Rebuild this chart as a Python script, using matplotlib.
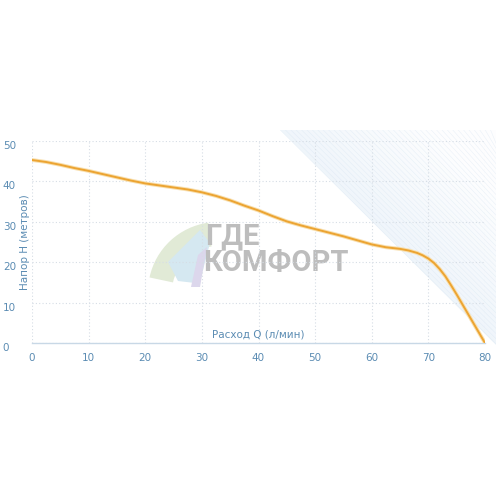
import numpy as np
import matplotlib
matplotlib.use("Agg")
import matplotlib.pyplot as plt
from matplotlib.patches import Polygon, Wedge

# Data
flow_q = [0, 2.5, 5, 7.5, 10, 12.5, 15, 17.5, 20, 22.5, 25, 27.5, 30, 32.5, 35,
          37.5, 40, 42.5, 45, 47.5, 50, 52.5, 55, 57.5, 60, 62.5, 65, 66.5, 68,
          69, 70, 71, 72, 73, 74, 75, 77.5, 80]
head_h = [45.3, 44.8, 44.1, 43.3, 42.6, 41.8, 41.0, 40.2, 39.5, 39.0, 38.5, 38.0,
          37.3, 36.4, 35.3, 34.0, 32.8, 31.4, 30.1, 29.1, 28.2, 27.3, 26.4, 25.4,
          24.4, 23.7, 23.3, 22.9, 22.3, 21.7, 20.9, 19.8, 18.3, 16.5, 14.3, 12.0,
          6.0, 0.0]
x_ticks = [0, 10, 20, 30, 40, 50, 60, 70, 80]
y_ticks = [0, 10, 20, 30, 40, 50]
x_label = "Расход Q (л/мин)"
y_label = "Напор H (метров)"
watermark = ["ГДЕ", "КОМФОРТ"]

W = H = 496
fig = plt.figure(figsize=(W / 100, H / 100), dpi=100)
fig.patch.set_facecolor("white")

# background overlay in pixel coords
bg = fig.add_axes([0, 0, 1, 1], zorder=0)
bg.set_xlim(0, W)
bg.set_ylim(H, 0)
bg.axis("off")

# diagonal light-blue fan
tri = Polygon([(280, 130), (496, 130), (496, 345)], closed=True,
              facecolor="none", edgecolor="none")
bg.add_patch(tri)
yy, xx = np.mgrid[0:H, 0:W]
d = (xx - 280) - (yy - 130)
alpha = np.clip(0.38 - d / 450.0, 0.04, 0.38)
img = np.zeros((H, W, 4))
img[..., 0] = 0.84
img[..., 1] = 0.90
img[..., 2] = 0.96
img[..., 3] = alpha
im = bg.imshow(img, extent=(0, W, H, 0), interpolation="bilinear", zorder=1)
im.set_clip_path(tri)
for i in range(40):
    x0 = 280 + i * 5.4
    ln, = bg.plot([x0, 496], [130, 130 + (496 - x0) * 0.99 + i * 0.2],
                  color="#cfe0f0", lw=0.35, alpha=0.45, zorder=1.5)
    ln.set_clip_path(tri)

# watermark logo
bg.add_patch(Wedge((218, 292), 70, 192, 262, width=24, facecolor="#e1ead6",
                   edgecolor="none", zorder=2))
bg.add_patch(Polygon([(168, 262), (200, 230), (210, 243), (203, 270), (195, 283),
                      (178, 281)], closed=True, facecolor="#d5e8f1",
                     edgecolor="none", zorder=2.1))
bg.add_patch(Polygon([(198, 255), (207, 247), (200, 287), (191, 287)], closed=True,
                     facecolor="#dcd7ec", edgecolor="none", zorder=2.2))
bg.text(205, 236, watermark[0], fontsize=21, fontweight="bold", color="#bdbdbd",
        family="Roboto", ha="left", va="center", zorder=3)
bg.text(203, 263, watermark[1], fontsize=21, fontweight="bold", color="#bdbdbd",
        family="Roboto", ha="left", va="center", zorder=3)

# main chart
left, right = 32 / W, 485 / W
bottom, top = (H - 343) / H, (H - 141) / H
ax = fig.add_axes([left, bottom, right - left, top - bottom], zorder=2)
ax.patch.set_alpha(0)

ax.plot(flow_q, head_h, color="#f8e0b0", lw=2.8, solid_capstyle="round",
        solid_joinstyle="round", zorder=3)
ax.plot(flow_q, head_h, color="#eca432", lw=1.4, solid_capstyle="round",
        solid_joinstyle="round", zorder=4)

ax.set_xlim(0, 80)
ax.set_ylim(0, 50)
ax.set_xticks(x_ticks)
ax.set_yticks(y_ticks)
ax.grid(True, color="#d6dde5", linestyle=(0, (1, 2)), lw=0.8)
for s in ["top", "right", "left"]:
    ax.spines[s].set_visible(False)
ax.spines["bottom"].set_color("#c8d8e6")
ax.spines["bottom"].set_linewidth(1.0)

tick_color = "#5b8cb3"
ax.tick_params(axis="x", length=0, pad=7, labelsize=7.5, labelcolor=tick_color)
ax.tick_params(axis="y", length=0, pad=21, labelsize=7.5, labelcolor=tick_color)
for lab in ax.get_yticklabels():
    lab.set_horizontalalignment("left")
    lab.set_verticalalignment("top")

ax.text(40, 0.9, x_label, fontsize=7.5, color=tick_color, ha="center", va="bottom")
fig.text(25 / W, 1 - 242 / H, y_label, fontsize=7.5, color=tick_color,
         rotation=90, ha="center", va="center")

fig.savefig("out.png", dpi=100, facecolor="white")
